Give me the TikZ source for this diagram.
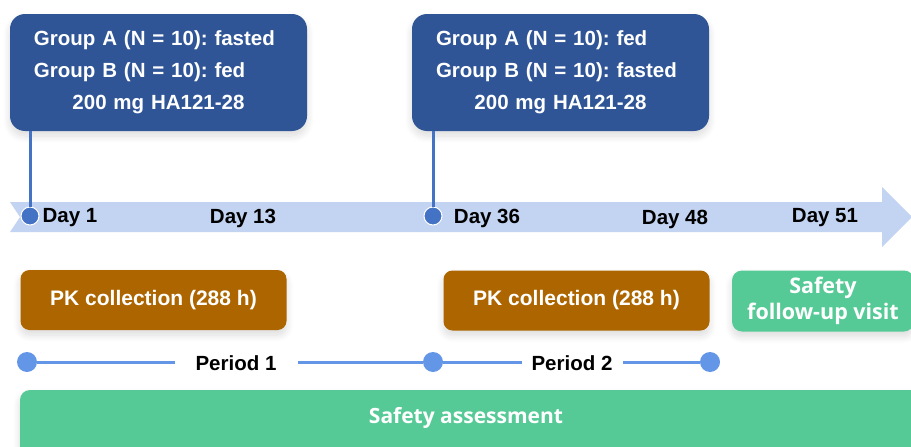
\documentclass[tikz,border=0pt]{standalone}
\usepackage{fontspec}
\setmainfont{Liberation Sans}
\newfontfamily\greenfont{Open Sans}
\usetikzlibrary{shadows.blur}
\definecolor{groupblue}{RGB}{47,85,151}
\definecolor{linkblue}{RGB}{68,114,196}
\definecolor{bandblue}{RGB}{194,212,242}
\definecolor{pkbrown}{RGB}{173,101,0}
\definecolor{safegreen}{RGB}{86,202,150}
\definecolor{periodblue}{RGB}{100,150,232}
\tikzset{
  softshadow/.style={blur shadow={shadow xshift=0pt, shadow yshift=-5pt, shadow blur radius=7pt, shadow opacity=14, shadow blur steps=10}},
  groupbox/.style={fill=groupblue, rounded corners=15pt, text=white, font=\fontsize{20.5}{32}\selectfont\bfseries\frenchspacing,
    minimum width=297pt, minimum height=117pt, inner sep=0pt, text width=249pt, softshadow},
  pkbox/.style={fill=pkbrown, rounded corners=9pt, text=white, font=\fontsize{21}{24}\selectfont\bfseries,
    minimum width=266pt, minimum height=60pt, inner sep=0pt, softshadow},
  greenbox/.style={fill=safegreen, rounded corners=10pt, text=white, font=\greenfont\fontsize{21.5}{26}\selectfont\bfseries,
    inner sep=0pt, align=center, softshadow},
  daylabel/.style={font=\fontsize{20.5}{24}\selectfont\bfseries, text=black, inner sep=0pt},
  linkline/.style={draw=linkblue, line width=3pt},
  daydot/.style={circle, fill=linkblue, draw=white, line width=1pt, minimum size=18pt, inner sep=0pt},
  perdot/.style={circle, fill=periodblue, minimum size=20pt, inner sep=0pt},
  perline/.style={draw=periodblue, line width=3pt},
}
\begin{document}
\begin{tikzpicture}[x=1pt, y=-1pt]
\useasboundingbox (0,0) rectangle (911,447);
\clip (0,0) rectangle (911,447);

% timeline arrow
\fill[bandblue] (10,202) -- (882,202) -- (882,187) -- (912,217) -- (882,247)
  -- (882,232) -- (10,232) -- (20,217) -- cycle;

% treatment boxes
\node[groupbox] (g1) at (158.5,72.5) {Group A (N = 10): fasted\\Group B (N = 10): fed\par\centering 200 mg HA121-28\par};
\node[groupbox] (g2) at (560.5,72.5) {Group A (N = 10): fed\\Group B (N = 10): fasted\par\centering 200 mg HA121-28\par};

% dosing days
\node[daydot] (d1) at (30,216) {};
\node[daydot] (d36) at (433,216) {};
\draw[linkline] (d1.north |- g1.south) -- (d1.north);
\draw[linkline] (d36.north |- g2.south) -- (d36.north);

\node[daylabel] (l1) at (70,218) {Day 1};
\node[daylabel] (l13) at (243,218) {Day 13};
\node[daylabel] (l36) at (487,218) {Day 36};
\node[daylabel] (l48) at (675,219) {Day 48};
\node[daylabel] (l51) at (825,218) {Day 51};

% activities
\node[pkbox] (pk1) at (153.5,300) {PK collection (288 h)};
\node[pkbox] (pk2) at (576.5,300.5) {PK collection (288 h)};
\node[greenbox, minimum width=182pt, minimum height=61pt] (fu) at (823,301) {Safety\\follow-up visit};

% periods
\node[perdot] (p0) at (27,362) {};
\node[perdot] (p1) at (433,362) {};
\node[perdot] (p2) at (710,362) {};
\node[daylabel] (per1) at (236,363) {Period 1};
\node[daylabel] (per2) at (572,363) {Period 2};
\draw[perline] (p0) -- (175,362);
\draw[perline] (298,362) -- (p1);
\draw[perline] (p1) -- (522,362);
\draw[perline] (623,362) -- (p2);

% overall safety assessment
\node[greenbox, minimum width=905pt, minimum height=70pt] (sa) at (472.5,425) {};
\node[font=\greenfont\fontsize{21}{24}\selectfont\bfseries, text=white, inner sep=0pt] (satext) at (466,418) {Safety assessment};
\end{tikzpicture}
\end{document}
